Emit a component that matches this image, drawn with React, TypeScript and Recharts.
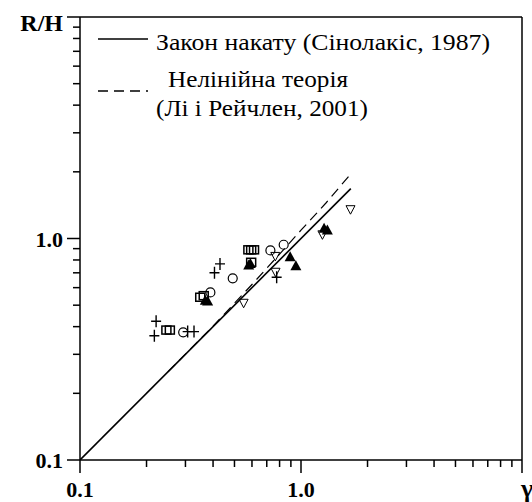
import React from "react";
import {
  Legend,
  ReferenceLine,
  Scatter,
  ScatterChart,
  XAxis,
  YAxis,
} from "recharts";

// values (gamma vs R/H)
const crosses = [
  { x: 0.221, y: 0.423 },
  { x: 0.217, y: 0.364 },
  { x: 0.307, y: 0.38 },
  { x: 0.328, y: 0.38 },
  { x: 0.406, y: 0.7 },
  { x: 0.43, y: 0.768 },
  { x: 0.776, y: 0.668 },
];

const circles = [
  { x: 0.293, y: 0.377 },
  { x: 0.389, y: 0.571 },
  { x: 0.491, y: 0.661 },
  { x: 0.727, y: 0.883 },
  { x: 0.835, y: 0.937 },
];

const squares = [
  { x: 0.246, y: 0.386 },
  { x: 0.255, y: 0.386 },
  { x: 0.35, y: 0.543 },
  { x: 0.363, y: 0.552 },
  { x: 0.595, y: 0.781 },
  { x: 0.578, y: 0.889 },
  { x: 0.595, y: 0.889 },
  { x: 0.613, y: 0.889 },
];

const triangles = [
  { x: 0.369, y: 0.524 },
  { x: 0.378, y: 0.519 },
  { x: 0.58, y: 0.755 },
  { x: 0.59, y: 0.768 },
  { x: 0.893, y: 0.823 },
  { x: 0.948, y: 0.75 },
  { x: 1.272, y: 1.106 },
  { x: 1.316, y: 1.087 },
];

const downTriangles = [
  { x: 0.55, y: 0.51 },
  { x: 0.767, y: 0.704 },
  { x: 0.765, y: 0.83 },
  { x: 1.25, y: 1.039 },
  { x: 1.675, y: 1.349 },
];

// run-up law (solid) and nonlinear theory (dashed)
const runupLaw = [
  { x: 0.1, y: 0.1 },
  { x: 1.68, y: 1.68 },
];

const nonlinear = [
  { x: 0.25, y: 0.25 },
  { x: 0.4, y: 0.402 },
  { x: 0.6, y: 0.62 },
  { x: 0.8, y: 0.85 },
  { x: 1.0, y: 1.09 },
  { x: 1.3, y: 1.45 },
  { x: 1.667, y: 1.94 },
];

const TICKS = [
  0.1, 0.2, 0.3, 0.4, 0.5, 0.6, 0.7, 0.8, 0.9,
  1, 2, 3, 4, 5, 6, 7, 8, 9, 10,
];
const X_LABELS: Record<number, string> = { 0.1: "0.1", 1: "1.0", 10: "γ" };
const Y_LABELS: Record<number, string> = { 0.1: "0.1", 1: "1.0", 10: "R/H" };
const MAJOR = [0.1, 1, 10];

const INK = "#000";
const FONT = "Times New Roman, Liberation Serif, DejaVu Serif, serif";

function XTick({ x, y, payload }: any) {
  const v = payload.value;
  const major = MAJOR.includes(v);
  const label = X_LABELS[v];
  return (
    <g>
      <line x1={x} x2={x} y1={y} y2={y + (major ? 13 : 7)} stroke={INK} strokeWidth={1.5} />
      {label && (
        <text
          x={v === 10 ? x + 5 : x}
          y={y + 37}
          textAnchor="middle"
          fontFamily={FONT}
          fontWeight="bold"
          fontSize={v === 10 ? 26 : 22}
          fill={INK}
        >
          {label}
        </text>
      )}
    </g>
  );
}

function YTick({ x, y, payload }: any) {
  const v = payload.value;
  const major = MAJOR.includes(v);
  const label = Y_LABELS[v];
  return (
    <g>
      <line x1={x} x2={x - (major ? 13 : 7)} y1={y} y2={y} stroke={INK} strokeWidth={1.5} />
      {label && (
        <text
          x={x - 17}
          y={v === 10 ? y + 14 : y + 8}
          textAnchor="end"
          fontFamily={FONT}
          fontWeight="bold"
          fontSize={v === 10 ? 24 : 22}
          fill={INK}
        >
          {label}
        </text>
      )}
    </g>
  );
}

function Cross({ cx, cy }: any) {
  return (
    <path
      d={`M${cx - 5},${cy}H${cx + 5}M${cx},${cy - 6}V${cy + 6}`}
      stroke={INK}
      strokeWidth={1.4}
      fill="none"
    />
  );
}

function OpenCircle({ cx, cy }: any) {
  return <circle cx={cx} cy={cy} r={4.5} fill="none" stroke={INK} strokeWidth={1.2} />;
}

function OpenSquare({ cx, cy }: any) {
  return (
    <rect x={cx - 4.5} y={cy - 4} width={9} height={8} fill="none" stroke={INK} strokeWidth={1.5} />
  );
}

function FilledTriangle({ cx, cy }: any) {
  return (
    <polygon
      points={`${cx},${cy - 6} ${cx + 5.5},${cy + 4} ${cx - 5.5},${cy + 4}`}
      fill={INK}
    />
  );
}

function DownTriangle({ cx, cy }: any) {
  return (
    <polygon
      points={`${cx - 4.5},${cy - 4} ${cx + 4.5},${cy - 4} ${cx},${cy + 4.5}`}
      fill="none"
      stroke={INK}
      strokeWidth={1}
    />
  );
}

const Blank = () => <g />;

function LegendBox() {
  return (
    <svg width={532} height={125} style={{ display: "block" }}>
      <g fontFamily={FONT} fontSize={24} fill={INK}>
        <line x1={98} x2={148} y1={39} y2={39} stroke={INK} strokeWidth={1.5} />
        <text x={156} y={50} textLength={334} lengthAdjust="spacingAndGlyphs">
          Закон накату (Сінолакіс, 1987)
        </text>
        <line
          x1={98}
          x2={148}
          y1={91}
          y2={91}
          stroke={INK}
          strokeWidth={1.3}
          strokeDasharray="10 6"
        />
        <text x={168} y={87} textLength={180} lengthAdjust="spacingAndGlyphs">
          Нелінійна теорія
        </text>
        <text x={156} y={116} textLength={212} lengthAdjust="spacingAndGlyphs">
          (Лі і Рейчлен, 2001)
        </text>
      </g>
    </svg>
  );
}

export default function App() {
  return (
    <div style={{ position: "absolute", left: 0, top: 0, width: 532, height: 502, background: "#fff" }}>
      <ScatterChart width={532} height={502} margin={{ top: 17, right: 10, bottom: 0, left: 0 }}>
        <XAxis
          type="number"
          dataKey="x"
          scale="log"
          domain={[0.1, 10]}
          allowDataOverflow
          ticks={TICKS}
          interval={0}
          height={42}
          tickSize={0}
          tickMargin={0}
          tickLine={false}
          tick={<XTick />}
          axisLine={{ stroke: INK, strokeWidth: 1.5 }}
        />
        <YAxis
          type="number"
          dataKey="y"
          scale="log"
          domain={[0.1, 10]}
          allowDataOverflow
          ticks={TICKS}
          interval={0}
          width={80}
          tickSize={0}
          tickMargin={0}
          tickLine={false}
          tick={<YTick />}
          axisLine={{ stroke: INK, strokeWidth: 1.5 }}
        />
        <ReferenceLine y={10} stroke={INK} strokeWidth={1.5} />
        <ReferenceLine x={10} stroke={INK} strokeWidth={1.5} />
        <Scatter
          data={runupLaw}
          line={{ stroke: INK, strokeWidth: 1.6 }}
          shape={Blank}
          isAnimationActive={false}
        />
        <Scatter
          data={nonlinear}
          line={{ stroke: INK, strokeWidth: 1.2, strokeDasharray: "10 6" }}
          shape={Blank}
          isAnimationActive={false}
        />
        <Scatter data={crosses} shape={Cross} isAnimationActive={false} />
        <Scatter data={circles} shape={OpenCircle} isAnimationActive={false} />
        <Scatter data={squares} shape={OpenSquare} isAnimationActive={false} />
        <Scatter data={triangles} shape={FilledTriangle} isAnimationActive={false} />
        <Scatter data={downTriangles} shape={DownTriangle} isAnimationActive={false} />
        <Legend
          layout="horizontal"
          verticalAlign="middle"
          align="center"
          wrapperStyle={{ position: "absolute", left: 0, top: 0, width: 532, height: 125 }}
          content={() => <LegendBox />}
        />
      </ScatterChart>
    </div>
  );
}
